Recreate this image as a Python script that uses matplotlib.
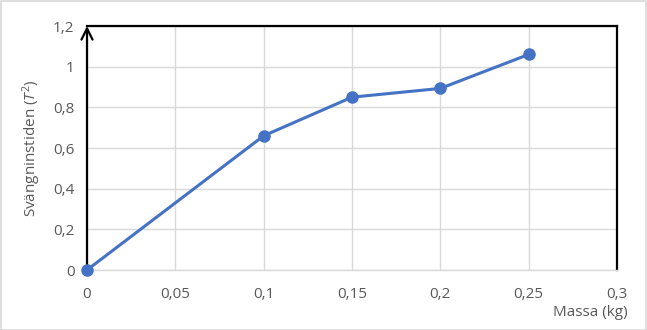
import matplotlib
matplotlib.use("Agg")
import matplotlib.pyplot as plt
from matplotlib.patches import Rectangle

mass = [0, 0.1, 0.15, 0.2, 0.25]
period_sq = [0, 0.66, 0.85, 0.893, 1.06]
xticks = [0, 0.05, 0.1, 0.15, 0.2, 0.25, 0.3]
yticks = [0, 0.2, 0.4, 0.6, 0.8, 1.0, 1.2]

def fmt(v):
    s = ("%.2f" % v).rstrip("0").rstrip(".")
    return s.replace(".", ",")

plt.rcParams['font.family'] = ['Open Sans', 'DejaVu Sans']
plt.rcParams['mathtext.fontset'] = 'custom'
plt.rcParams['mathtext.rm'] = 'Open Sans'
plt.rcParams['mathtext.it'] = 'Open Sans:italic'

fig = plt.figure(figsize=(6.47, 3.30), dpi=100)
ax = fig.add_axes([87/647, 60/330, 530/647, 244/330])

grid_c = '#d9d9d9'
text_c = '#595959'
fs = 11
ax.set_xlim(0, 0.3)
ax.set_ylim(0, 1.2)
ax.set_xticks(xticks)
ax.set_yticks(yticks)
ax.set_xticklabels([fmt(v) for v in xticks])
ax.set_yticklabels([fmt(v) for v in yticks])
ax.grid(True, color=grid_c, lw=1)
ax.set_axisbelow(True)
ax.tick_params(axis='x', length=0, colors=text_c, labelsize=fs, pad=12)
ax.tick_params(axis='y', length=0, colors=text_c, labelsize=fs, pad=9)
for s in ['left', 'top', 'right']:
    ax.spines[s].set_color('black')
    ax.spines[s].set_linewidth(1.6)
ax.spines['bottom'].set_color(grid_c)
ax.spines['bottom'].set_linewidth(1)
ax.spines['left'].set_visible(False)

ax.annotate('', xy=(0, 1.2), xytext=(0, 0), xycoords='data',
            arrowprops=dict(arrowstyle='->', color='black', lw=1.6,
                            mutation_scale=20, shrinkA=0, shrinkB=0),
            annotation_clip=False)

ax.plot(mass, period_sq, color='#4472C4', lw=2.2, marker='o', ms=8,
        clip_on=False, zorder=5)

ax.set_ylabel(r'Svängninstiden ($T^2$)', color=text_c, fontsize=fs, labelpad=7)
fig.text(628/647, 1 - 313/330, 'Massa (kg)', ha='right', va='center',
         color=text_c, fontsize=fs)

fig.patches.append(Rectangle((0.5/647, 0.5/330), 1 - 1.5/647, 1 - 1.5/330,
                             transform=fig.transFigure, fill=False,
                             ec=grid_c, lw=1.2))

fig.savefig('out.png', dpi=100)
